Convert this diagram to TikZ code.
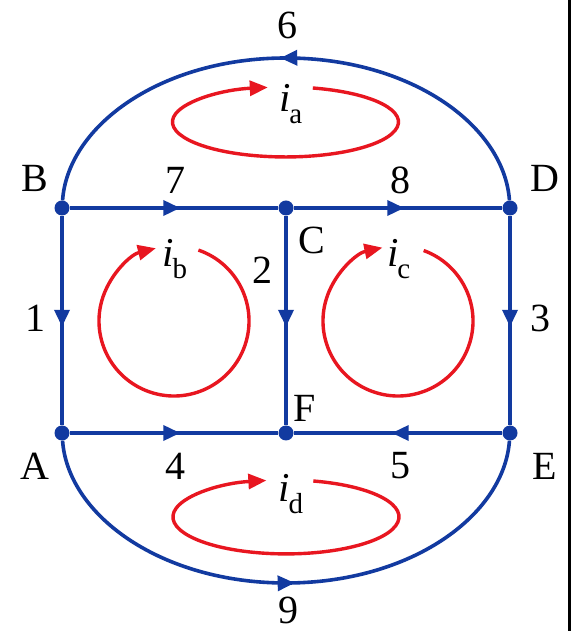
\documentclass[tikz,border=0pt]{standalone}
\usepackage{fontspec}
\setmainfont{Liberation Serif}
\usetikzlibrary{arrows.meta,decorations.markings,calc}
\definecolor{wireblue}{RGB}{18,58,160}
\definecolor{loopred}{RGB}{232,22,32}
\tikzset{
  wire/.style={draw=wireblue,line width=3.6pt},
  junction/.style={circle,fill=wireblue,inner sep=0pt,minimum size=15pt},
  midarrow/.style={postaction={decorate},decoration={markings,
     mark=at position #1 with {\arrow{Triangle[length=17pt,width=15pt]}}}},
  mesh/.style={draw=loopred,line width=3.4pt,-{Triangle[length=18pt,width=15pt]}},
  lbl/.style={inner sep=0pt,font=\fontsize{40}{40}\selectfont},
  cur/.style={inner sep=0pt,font=\fontsize{41}{41}\selectfont}
}
\newcommand{\cursym}[1]{\textit{i}\kern-0.04em\raisebox{-0.28em}{\fontsize{29}{29}\selectfont #1}}
\begin{document}
\begin{tikzpicture}[x=1pt,y=1pt]
\useasboundingbox (0,0) rectangle (574,631);
\fill[white] (0,0) rectangle (574,631);
% right frame line
\draw[black,line width=3pt] (569.5,0) -- (569.5,631);
% junctions
\node[junction] (B) at (62,423) {};
\node[junction] (C) at (286,423) {};
\node[junction] (D) at (510,423) {};
\node[junction] (A) at (62,198) {};
\node[junction] (F) at (286,198) {};
\node[junction] (E) at (510,198) {};
% branches
\draw[wire,midarrow=0.53,wireblue] (B) -- (C);
\draw[wire,midarrow=0.53,wireblue] (C) -- (D);
\draw[wire,midarrow=0.53,wireblue] (B) -- (A);
\draw[wire,midarrow=0.53,wireblue] (C) -- (F);
\draw[wire,midarrow=0.53,wireblue] (D) -- (E);
\draw[wire,midarrow=0.53,wireblue] (A) -- (F);
\draw[wire,midarrow=0.53,wireblue] (E) -- (F);
\draw[wire,midarrow=0.51,wireblue] (D) .. controls (504,506) and (410,573) .. (286,573)
      .. controls (162,573) and (68,506) .. (B);
\draw[wire,midarrow=0.515,wireblue] (A) .. controls (68,115) and (162,48) .. (286,48)
      .. controls (410,48) and (504,115) .. (E);
% mesh currents
\draw[mesh] (312.8,543) arc[start angle=76,end angle=-261,x radius=113,y radius=35];
\draw[mesh] ($(174,310)+(71:75)$) arc[start angle=71,end angle=-256,radius=75];
\draw[mesh] ($(398,310)+(70:75)$) arc[start angle=70,end angle=-258,radius=75];
\draw[mesh] (313.3,150) arc[start angle=76,end angle=-260,x radius=113,y radius=37];
% labels
\node[lbl] (l6) at (287,606) {6};
\node[lbl] (l9) at (288,21) {9};
\node[lbl] (lB) at (35,453) {B};
\node[lbl] (lD) at (545,453) {D};
\node[lbl] (l7) at (175,451) {7};
\node[lbl] (l8) at (400,451) {8};
\node[lbl] (lC) at (312,391) {C};
\node[lbl] (l2) at (262,361) {2};
\node[lbl] (l1) at (35,313) {1};
\node[lbl] (l3) at (540,313) {3};
\node[lbl] (lF) at (305,223) {F};
\node[lbl] (lA) at (35,165) {A};
\node[lbl] (lE) at (545,165) {E};
\node[lbl] (l4) at (175,165) {4};
\node[lbl] (l5) at (400,165) {5};
\node[cur] (ia) at (291,527) {\cursym{a}};
\node[cur] (ib) at (175,372) {\cursym{b}};
\node[cur] (ic) at (399,372) {\cursym{c}};
\node[cur] (id) at (291,137) {\cursym{d}};
\end{tikzpicture}
\end{document}
